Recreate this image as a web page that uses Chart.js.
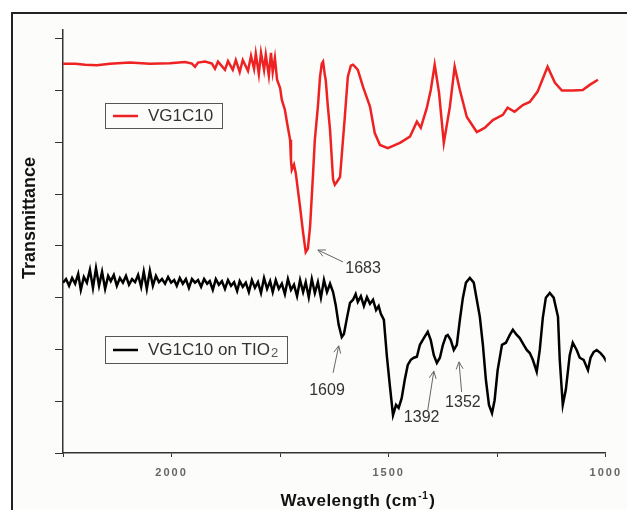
<!DOCTYPE html>
<html>
<head>
<meta charset="utf-8">
<script src="https://cdn.jsdelivr.net/npm/chart.js@4.4.1/dist/chart.umd.min.js"></script>
<style>
  html, body { margin: 0; padding: 0; background: #ffffff; }
  #wrap { width: 627px; height: 510px; }
</style>
</head>
<body>
<div id="wrap"><canvas id="c" width="627" height="510"></canvas></div>
<script>
// ---- data (wavenumber in cm^-1, transmittance in arbitrary units) ----
const redName = 'VG1C10';
const blackName = 'VG1C10 on TIO';
const blackNameSub = '2';

const redWn = [2250,2222,2199,2172,2142,2096,2050,2004,1969,1953,1946,1939,1923,1907,1900,1893,1877,1870,1859,1852,1843,1836,1824,1817,1810,1806,1799,1794,1787,1783,1776,1771,1767,1762,1757,1750,1746,1739,1734,1727,1725,1723,1718,1714,1704,1697,1691,1686,1681,1674,1670,1663,1658,1654,1651,1647,1645,1640,1635,1628,1624,1619,1612,1601,1594,1587,1582,1575,1571,1559,1543,1532,1520,1502,1474,1451,1435,1426,1412,1403,1394,1384,1373,1359,1348,1336,1320,1297,1279,1260,1237,1226,1210,1191,1175,1157,1134,1117,1101,1076,1053,1037,1018];
const redT  = [75.2,75.2,75.0,74.9,75.2,75.4,75.2,75.3,75.5,75.2,74.6,75.4,75.6,75.2,74.2,75.6,74.0,75.7,74.0,75.9,73.6,75.9,73.8,76.7,74.2,77.1,73.2,77.3,74.0,76.9,72.9,77.3,73.6,76.3,72.1,70.5,68.2,66.3,63.8,60.5,56.6,54.7,55.7,54.1,47.5,42.5,38.8,39.5,43.7,54.1,60.5,66.9,72.7,75.2,75.6,73.0,72.1,66.9,62.4,52.8,51.8,52.4,53.3,64.9,72.7,74.8,75.0,74.4,74.0,70.7,66.9,61.8,59.5,58.9,59.9,61.1,64.0,62.8,66.7,70.1,75.0,69.6,59.9,66.9,74.6,70.1,64.9,62.0,62.8,64.3,65.3,66.7,65.9,67.2,67.8,69.8,74.6,71.5,70.0,70.0,70.1,71.1,72.1];

const blackWn = [2250,2243,2236,2229,2222,2215,2209,2202,2195,2188,2181,2174,2167,2160,2153,2146,2140,2133,2126,2119,2112,2105,2098,2091,2084,2077,2070,2064,2057,2050,2043,2036,2029,2022,2015,2008,2001,1994,1988,1981,1974,1967,1960,1953,1946,1939,1932,1925,1918,1912,1905,1898,1891,1884,1877,1870,1863,1856,1849,1843,1836,1829,1822,1815,1808,1801,1794,1787,1780,1773,1767,1760,1753,1746,1739,1732,1725,1718,1711,1704,1697,1691,1684,1677,1670,1663,1656,1649,1642,1635,1628,1622,1615,1608,1603,1596,1589,1582,1576,1571,1564,1557,1550,1543,1536,1529,1523,1518,1511,1504,1497,1490,1483,1477,1470,1463,1456,1449,1442,1435,1428,1419,1410,1403,1396,1389,1382,1375,1368,1364,1357,1350,1343,1336,1329,1322,1313,1304,1297,1290,1283,1276,1269,1262,1256,1249,1239,1230,1221,1214,1205,1198,1189,1182,1175,1168,1159,1152,1145,1138,1129,1120,1110,1106,1099,1092,1083,1076,1067,1060,1051,1041,1035,1028,1021,1012,1005,998];
const blackT  = [32.9,33.6,32.3,33.8,32.7,34.6,31.5,34.0,32.9,35.4,31.9,35.7,32.3,35.0,31.7,34.2,33.2,34.4,32.3,33.8,32.9,34.2,32.5,33.6,33.0,34.4,32.1,35.0,31.7,35.2,32.3,34.2,33.0,33.6,32.7,34.0,32.9,33.4,32.3,33.8,32.7,33.6,31.9,33.6,32.9,33.4,32.1,33.6,32.7,33.2,31.5,33.6,32.5,33.2,31.7,33.4,32.3,33.0,31.3,33.2,32.1,32.9,31.1,33.4,31.9,33.0,30.9,33.8,31.7,33.2,31.1,33.4,31.7,32.7,30.7,33.6,31.5,32.5,30.3,33.4,31.1,33.0,30.1,33.6,30.9,33.0,30.0,33.4,31.1,32.7,31.1,28.6,24.7,22.4,23.0,26.1,29.0,29.6,30.7,29.2,30.3,28.4,30.1,28.8,29.6,27.6,28.4,26.9,25.7,18.6,12.8,7.3,9.3,8.7,10.6,14.1,17.0,18.0,18.4,18.6,20.9,22.2,23.4,21.8,18.9,17.4,18.4,20.9,22.6,22.8,21.8,19.9,20.9,25.7,30.0,32.9,33.8,32.9,29.6,26.3,20.9,14.1,9.3,7.7,10.2,16.0,20.9,21.3,22.8,23.8,22.8,22.2,20.9,19.9,19.3,18.0,15.7,19.9,26.1,30.0,30.9,30.0,26.3,18.0,9.3,12.2,18.9,21.3,19.9,18.4,18.0,16.0,18.4,19.5,19.9,19.3,18.6,17.6];

// x-axis tick labels (every 500 cm^-1; minor ticks every 250 unlabeled)
const xTickValues = [2000, 1500, 1000];
const xTickLabels = ['2000', '1500', '1000'];

// peak annotations: label, arrow head, arrow tail, text centre (data units)
const annLabels = ['1683', '1609', '1392', '1352'];
const annHeadWn = [1663, 1615, 1396, 1338];
const annHeadT  = [39.2, 20.7, 15.8, 17.6];
const annTailWn = [1605, 1628, 1410, 1332];
const annTailT  = [36.9, 15.5, 8.3, 11.8];
const annTextWn = [1559, 1642, 1424, 1329];
const annTextT  = [35.6, 12.0, 6.8, 9.7];

const axisTitleY = 'Transmittance';
const axisTitleX = 'Wavelength (cm';
const axisTitleXSup = '-1';

// ---- styles ----
const FONT = '"Liberation Sans", Arial, sans-serif';
const RED = '#ee2222';
const BLACK = '#000000';

const toXY = (xs, ys) => xs.map((x, i) => ({ x: x, y: ys[i] }));

const decorPlugin = {
  id: 'decor',
  beforeDraw(chart) {
    const ctx = chart.ctx;
    ctx.save();
    ctx.fillStyle = '#ffffff';
    ctx.fillRect(0, 0, chart.width, chart.height);
    ctx.fillStyle = '#fcfcfa';
    ctx.fillRect(12, 13, chart.width, chart.height);
    ctx.strokeStyle = '#222222';
    ctx.lineWidth = 2;
    ctx.strokeRect(12, 13, chart.width + 10, chart.height + 10);
    ctx.restore();
    ctx.letterSpacing = '2px';
  },
  beforeDatasetsDraw(chart) {
    chart.ctx.letterSpacing = '0px';
  },
  afterDraw(chart) {
    const ctx = chart.ctx;
    const xs = chart.scales.x, ys = chart.scales.y;
    ctx.save();
    ctx.letterSpacing = '0px';

    // Y title
    ctx.save();
    ctx.translate(30, 218);
    ctx.rotate(-Math.PI / 2);
    ctx.font = 'bold 18px ' + FONT;
    ctx.fillStyle = '#111';
    ctx.textAlign = 'center';
    ctx.textBaseline = 'middle';
    ctx.fillText(axisTitleY, 0, 0);
    ctx.restore();

    // X title with superscript
    ctx.save();
    ctx.letterSpacing = '0.5px';
    ctx.fillStyle = '#111';
    ctx.textBaseline = 'alphabetic';
    const mainF = 'bold 17px ' + FONT, supF = 'bold 10px ' + FONT;
    ctx.font = mainF; const w1 = ctx.measureText(axisTitleX).width; const w3 = ctx.measureText(')').width;
    ctx.font = supF; const w2 = ctx.measureText(axisTitleXSup).width;
    let tx = 358 - (w1 + w2 + w3 + 2) / 2;
    const base = 506;
    ctx.font = mainF; ctx.textAlign = 'left';
    ctx.fillText(axisTitleX, tx, base); tx += w1 + 1;
    ctx.font = supF; ctx.fillText(axisTitleXSup, tx, base - 7); tx += w2 + 1;
    ctx.font = mainF; ctx.fillText(')', tx, base);
    ctx.restore();

    // Legends
    ctx.strokeStyle = '#555';
    ctx.lineWidth = 1;
    ctx.strokeRect(105.5, 103.5, 117, 25);
    ctx.strokeRect(105.5, 336.5, 182, 27);
    ctx.lineWidth = 2.5;
    ctx.strokeStyle = RED;
    ctx.beginPath(); ctx.moveTo(113, 116); ctx.lineTo(138, 116); ctx.stroke();
    ctx.strokeStyle = BLACK;
    ctx.beginPath(); ctx.moveTo(113, 350); ctx.lineTo(138, 350); ctx.stroke();
    ctx.fillStyle = '#333';
    ctx.textAlign = 'left';
    ctx.textBaseline = 'middle';
    ctx.font = '17px ' + FONT;
    ctx.fillText(redName, 148, 116.5);
    ctx.fillText(blackName, 148, 350.5);
    const bw = ctx.measureText(blackName).width;
    ctx.font = '13px ' + FONT;
    ctx.fillStyle = '#555';
    ctx.fillText(blackNameSub, 148 + bw + 1, 353);

    // Annotations
    ctx.strokeStyle = '#666';
    ctx.lineWidth = 1;
    ctx.fillStyle = '#333';
    ctx.font = '16px ' + FONT;
    ctx.textAlign = 'center';
    ctx.textBaseline = 'middle';
    for (let i = 0; i < annLabels.length; i++) {
      const hx = xs.getPixelForValue(annHeadWn[i]), hy = ys.getPixelForValue(annHeadT[i]);
      const tx2 = xs.getPixelForValue(annTailWn[i]), ty2 = ys.getPixelForValue(annTailT[i]);
      ctx.beginPath(); ctx.moveTo(tx2, ty2); ctx.lineTo(hx, hy); ctx.stroke();
      const ang = Math.atan2(ty2 - hy, tx2 - hx);
      const L = 8, a = 0.45;
      ctx.beginPath();
      ctx.moveTo(hx + L * Math.cos(ang - a), hy + L * Math.sin(ang - a));
      ctx.lineTo(hx, hy);
      ctx.lineTo(hx + L * Math.cos(ang + a), hy + L * Math.sin(ang + a));
      ctx.stroke();
      ctx.fillText(annLabels[i], xs.getPixelForValue(annTextWn[i]), ys.getPixelForValue(annTextT[i]));
    }
    ctx.restore();
  }
};

new Chart(document.getElementById('c'), {
  type: 'line',
  data: {
    datasets: [
      { label: redName, data: toXY(redWn, redT), borderColor: RED, borderWidth: 2.5, pointRadius: 0, tension: 0, fill: false },
      { label: blackName + blackNameSub, data: toXY(blackWn, blackT), borderColor: BLACK, borderWidth: 2.5, pointRadius: 0, tension: 0, fill: false }
    ]
  },
  options: {
    responsive: false,
    animation: false,
    events: [],
    layout: { padding: { top: 30, right: 21, left: 0, bottom: 0 } },
    plugins: { legend: { display: false }, tooltip: { enabled: false }, title: { display: false } },
    scales: {
      x: {
        type: 'linear',
        reverse: true,
        min: 1000,
        max: 2250,
        afterFit(s) { s.height = 57; },
        border: { display: true, color: '#333', width: 1.5 },
        grid: { display: true, drawOnChartArea: false, drawTicks: true, tickLength: 4, color: '#333', lineWidth: 1 },
        ticks: {
          stepSize: 250,
          padding: 9,
          maxRotation: 0,
          autoSkip: false,
          color: '#666',
          font: { family: FONT, size: 11, weight: 'bold' },
          callback(v) { const i = xTickValues.indexOf(v); return i >= 0 ? xTickLabels[i] : ''; }
        }
      },
      y: {
        type: 'linear',
        min: 0,
        max: 81.7,
        afterFit(s) { s.width = 63; },
        border: { display: true, color: '#333', width: 1.5 },
        grid: { display: true, drawOnChartArea: false, drawTicks: true, tickLength: 8, color: '#333', lineWidth: 1 },
        ticks: { stepSize: 10, includeBounds: false, display: false }
      }
    }
  },
  plugins: [decorPlugin]
});
</script>
</body>
</html>
